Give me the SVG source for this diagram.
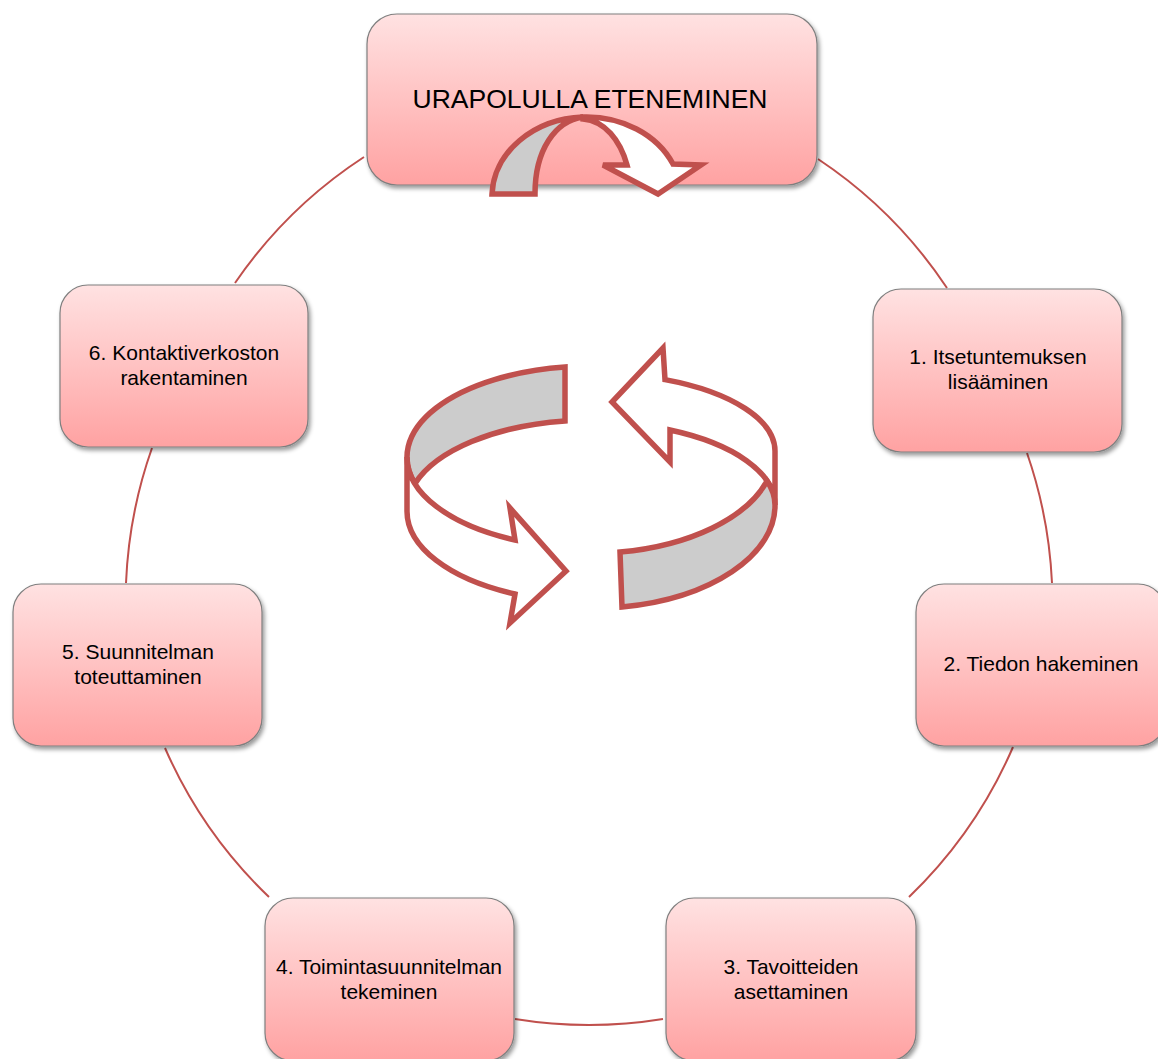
<svg xmlns="http://www.w3.org/2000/svg" width="1158" height="1059" viewBox="0 0 1158 1059">
<defs>
<linearGradient id="pink" x1="0" y1="0" x2="0" y2="1">
<stop offset="0" stop-color="#FFE2E2"/>
<stop offset="1" stop-color="#FFA2A2"/>
</linearGradient>
<filter id="sh" x="-10%" y="-10%" width="125%" height="130%">
<feDropShadow dx="2" dy="3" stdDeviation="2.2" flood-color="#000" flood-opacity="0.4"/>
</filter>
</defs>
<style>
.box{fill:url(#pink);stroke:#7F7F7F;stroke-width:1.2;filter:url(#sh)}
.t{font-family:"Liberation Sans",Arial,sans-serif;font-size:21px;fill:#000;text-anchor:middle}
.title{font-family:"Liberation Sans",Arial,sans-serif;font-size:26.5px;fill:#000;text-anchor:middle}
.conn{fill:none;stroke:#C0504D;stroke-width:2}
.ar{stroke:#C0504D;stroke-width:5.5;stroke-linejoin:miter}
.g{fill:#CCCCCC}
.w{fill:#FFFFFF}
</style>
<g id="connectors">
<path class="conn" d="M818,159 A462,462 0 0 1 947,288"/>
<path class="conn" d="M1027,453 A462,462 0 0 1 1052,583"/>
<path class="conn" d="M1013,747 A462,462 0 0 1 909,897"/>
<path class="conn" d="M663,1019 A462,462 0 0 1 515,1019"/>
<path class="conn" d="M269,897 A462,462 0 0 1 165,748"/>
<path class="conn" d="M126,583 A462,462 0 0 1 152,448"/>
<path class="conn" d="M235,283 A462,462 0 0 1 364,157"/>
</g>
<g id="node-top">
<rect class="box" x="367" y="14" width="450" height="171" rx="30"/>
<text class="title" x="590" y="108">URAPOLULLA ETENEMINEN</text>
</g>
<g id="node-1">
<rect class="box" x="873" y="289" width="249" height="163" rx="28"/>
<text class="t" x="998" y="364">1. Itsetuntemuksen</text>
<text class="t" x="998" y="389">lisääminen</text>
</g>
<g id="node-2">
<rect class="box" x="916" y="584" width="250" height="162" rx="28"/>
<text class="t" x="1041" y="671">2. Tiedon hakeminen</text>
</g>
<g id="node-3">
<rect class="box" x="666" y="898" width="250" height="163" rx="28"/>
<text class="t" x="791" y="974">3. Tavoitteiden</text>
<text class="t" x="791" y="999">asettaminen</text>
</g>
<g id="node-4">
<rect class="box" x="265" y="898" width="249" height="163" rx="28"/>
<text class="t" x="389" y="974">4. Toimintasuunnitelman</text>
<text class="t" x="389" y="999">tekeminen</text>
</g>
<g id="node-5">
<rect class="box" x="13" y="584" width="249" height="162" rx="28"/>
<text class="t" x="138" y="659">5. Suunnitelman</text>
<text class="t" x="138" y="684">toteuttaminen</text>
</g>
<g id="node-6">
<rect class="box" x="60" y="285" width="248" height="162" rx="28"/>
<text class="t" x="184" y="360">6. Kontaktiverkoston</text>
<text class="t" x="184" y="385">rakentaminen</text>
</g>
<g id="top-arrow">
<path class="ar g" d="M492,194 A95,80 0 0 1 583,117 C555,121 535,150 535,194 Z"/>
<path class="ar w" d="M583,117 A95,80 0 0 1 673,164 L701,165 L658,194 L603,165 L627,165 C620,140 605,121 583,119 Z"/>
</g>
<g id="cycle-left">
<path class="ar g" d="M565,367 A184,91 0 0 0 415,483.6 A184,91 0 0 1 565,421 Z"/>
<path class="ar w" d="M407,457 L407,511 A184,91 0 0 0 515,594 L510,623 L566,571 L510,508 L515,540 A184,91 0 0 1 407,457 Z"/>
</g>
<g id="cycle-right">
<path class="ar w" d="M775,451 A184,78 0 0 0 665,379.6 L663,348 L612,402 L670,462 L670,430 A184,83 0 0 1 775,505 Z"/>
<path class="ar g" d="M620,552 A184,102 0 0 0 767,481 A184,83 0 0 1 775,505 A184,103 0 0 1 622,607 Z"/>
</g>
</svg>
